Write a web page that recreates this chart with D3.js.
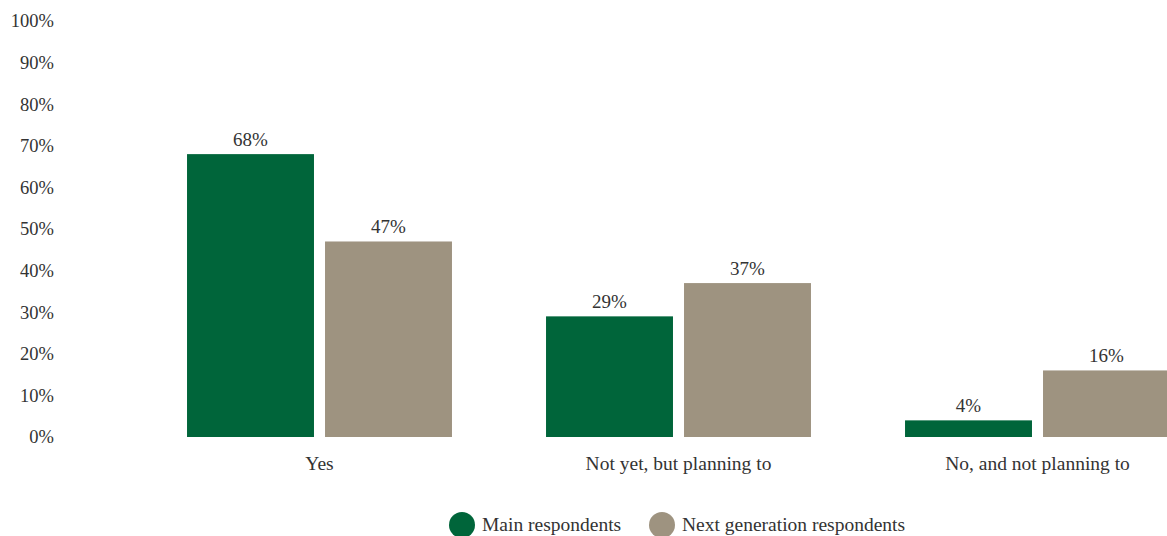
<!DOCTYPE html>
<html>
<head>
<meta charset="utf-8">
<script src="https://cdn.jsdelivr.net/npm/d3@7"></script>
<style>
  body { margin: 0; background: #fff; }
  text { font-family: "Liberation Serif", "DejaVu Serif", serif; fill: #333; }
</style>
</head>
<body>
<script>
const categories = ["Yes", "Not yet, but planning to", "No, and not planning to"];
const seriesNames = ["Main respondents", "Next generation respondents"];
const mainValues = [68, 29, 4];
const nextGenValues = [47, 37, 16];
const yTicks = [0, 10, 20, 30, 40, 50, 60, 70, 80, 90, 100];
const colors = ["#00653a", "#9e9380"];

function main() {
    const width = 1167;
    const height = 536;

    const svg = d3.select("body").append("svg")
        .attr("width", width)
        .attr("height", height);

    const yScale = d3.scaleLinear().domain([0, 100]).range([437, 21]);

    const xScale = d3.scaleBand()
        .domain(categories)
        .range([140, 1217])
        .paddingInner(0.262)
        .paddingOuter(0.131);

    const xSub = d3.scaleBand()
        .domain(seriesNames)
        .range([0, xScale.bandwidth()])
        .paddingInner(0.08);

    const color = d3.scaleOrdinal().domain(seriesNames).range(colors);

    // y axis labels only, no line
    const yAxis = svg.append("g")
        .attr("transform", "translate(54,0)")
        .call(d3.axisLeft(yScale).tickValues(yTicks).tickSize(0).tickPadding(0).tickFormat(d => d + "%"));
    yAxis.select(".domain").remove();
    yAxis.selectAll("text")
        .attr("font-size", "18.5px")
        .attr("font-family", null)
        .attr("fill", "#333");

    const rows = categories.map((c, i) => ({
        category: c,
        values: [
            { name: seriesNames[0], value: mainValues[i] },
            { name: seriesNames[1], value: nextGenValues[i] }
        ]
    }));

    const groups = svg.selectAll(".group")
        .data(rows)
        .enter().append("g")
        .attr("class", "group")
        .attr("transform", d => "translate(" + xScale(d.category) + ",0)");

    groups.selectAll("rect")
        .data(d => d.values)
        .enter().append("rect")
        .attr("x", d => xSub(d.name))
        .attr("y", d => yScale(d.value))
        .attr("width", xSub.bandwidth())
        .attr("height", d => yScale(0) - yScale(d.value))
        .attr("fill", d => color(d.name));

    groups.selectAll(".val")
        .data(d => d.values)
        .enter().append("text")
        .attr("class", "val")
        .attr("x", d => xSub(d.name) + xSub.bandwidth() / 2)
        .attr("y", d => yScale(d.value) - 8)
        .attr("text-anchor", "middle")
        .attr("font-size", "19px")
        .text(d => d.value + "%");

    // x axis category labels
    const xAxis = svg.append("g")
        .attr("transform", "translate(0,437)")
        .call(d3.axisBottom(xScale).tickSize(0).tickPadding(19));
    xAxis.select(".domain").remove();
    xAxis.selectAll("text")
        .attr("font-size", "19.5px")
        .attr("font-family", null)
        .attr("fill", "#333");

    // legend
    const legendX = [462, 662];
    const legend = svg.selectAll(".legend")
        .data(seriesNames)
        .enter().append("g")
        .attr("class", "legend")
        .attr("transform", (d, i) => "translate(" + legendX[i] + ",525)");
    legend.append("circle")
        .attr("r", 13)
        .attr("fill", d => color(d));
    legend.append("text")
        .attr("x", 20)
        .attr("y", 6)
        .attr("font-size", "19.5px")
        .text(d => d);
}
main();
</script>
</body>
</html>
